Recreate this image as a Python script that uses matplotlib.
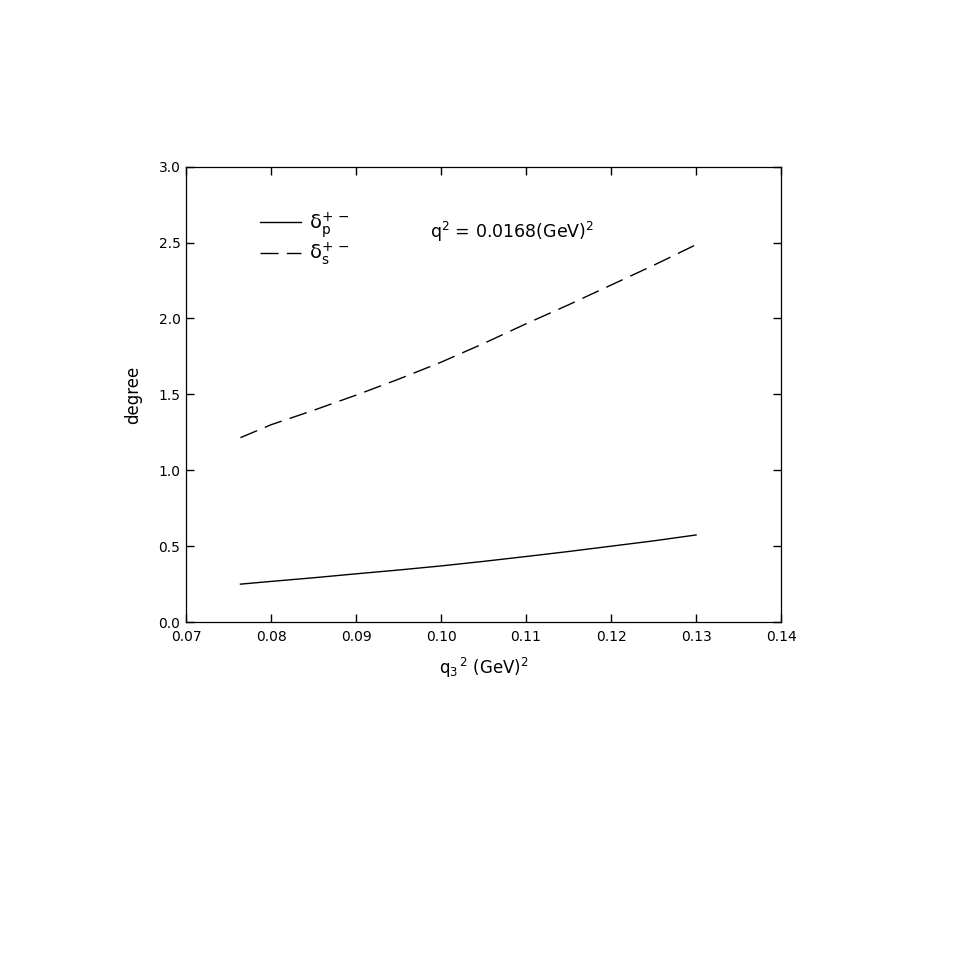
import matplotlib
matplotlib.use('Agg')
import matplotlib.pyplot as plt
import numpy as np

plt.rcParams['font.family'] = ['DejaVu Sans']
plt.rcParams['mathtext.fontset'] = 'dejavusans'
plt.rcParams['mathtext.default'] = 'rm'

# values
q3sq = [0.0764, 0.080, 0.085, 0.090, 0.095, 0.100, 0.105, 0.110, 0.115, 0.120, 0.125, 0.130]
delta_p = [0.250, 0.268, 0.292, 0.318, 0.343, 0.370, 0.400, 0.432, 0.465, 0.500, 0.535, 0.574]
delta_s = [1.215, 1.300, 1.395, 1.495, 1.600, 1.712, 1.835, 1.965, 2.090, 2.220, 2.350, 2.486]

fig = plt.figure(figsize=(9.69, 9.69), dpi=100)
ax = fig.add_axes([0.192, 0.358, 0.614, 0.470])

l1, = ax.plot(q3sq, delta_p, color='black', lw=1.0)
l2, = ax.plot(q3sq, delta_s, color='black', lw=1.0, dashes=(13, 6))

ax.set_xlim(0.07, 0.14)
ax.set_ylim(0.0, 3.0)
ax.set_xticks(np.arange(0.07, 0.1401, 0.01))
ax.set_yticks(np.arange(0.0, 3.01, 0.5))
ax.xaxis.set_major_formatter(matplotlib.ticker.FormatStrFormatter('%.2f'))
ax.yaxis.set_major_formatter(matplotlib.ticker.FormatStrFormatter('%.1f'))
ax.tick_params(direction='in', length=6, width=1, top=True, right=True,
               labelsize=10)
ax.tick_params(axis='x', pad=6)
ax.tick_params(axis='y', pad=4)
for s in ax.spines.values():
    s.set_linewidth(0.9)

ax.set_xlabel(r'q$_3$$^{\,2}$ (GeV)$^2$', fontsize=12, labelpad=8)
ax.set_ylabel('degree', fontsize=12, labelpad=12)

ax.legend([l1, l2], [r'$\delta_p^{+\,-}$', r'$\delta_s^{+\,-}$'],
          loc='upper left', bbox_to_anchor=(0.095, 0.944), frameon=False,
          fontsize=14, handlelength=2.1, handletextpad=0.4, labelspacing=0.05)

ax.text(0.41, 0.857, r'q$^2$ = 0.0168(GeV)$^2$', transform=ax.transAxes,
        fontsize=12.5, va='center', ha='left')

fig.savefig('out.png', dpi=100)
